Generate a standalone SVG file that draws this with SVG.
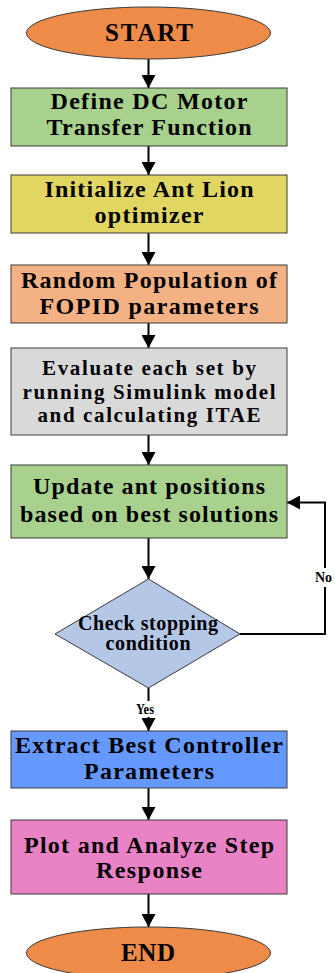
<svg xmlns="http://www.w3.org/2000/svg" width="335" height="973" viewBox="0 0 335 973">
<style>
.t{font-family:"Liberation Serif","Times New Roman",serif;font-weight:bold;fill:#000;text-anchor:middle}
.b{font-size:24px}
.e{font-size:21px}
.d{font-size:20px}
.l{font-size:14px}
.box{stroke:#3a3a3a;stroke-width:1}
.c{stroke:#000;stroke-width:2;fill:none}
</style>
<defs>
<marker id="ah" markerUnits="userSpaceOnUse" markerWidth="14" markerHeight="14" refX="13" refY="7" orient="auto">
<path d="M0,0 L13,7 L0,14 z" fill="#000"/>
</marker>
</defs>
<rect width="335" height="973" fill="#fff"/>
<g id="connectors">
<line class="c" x1="148.5" y1="59" x2="148.5" y2="88" marker-end="url(#ah)"/>
<line class="c" x1="148.5" y1="146" x2="148.5" y2="175" marker-end="url(#ah)"/>
<line class="c" x1="148.5" y1="233" x2="148.5" y2="265" marker-end="url(#ah)"/>
<line class="c" x1="148.5" y1="323" x2="148.5" y2="348" marker-end="url(#ah)"/>
<line class="c" x1="148.5" y1="435" x2="148.5" y2="465" marker-end="url(#ah)"/>
<line class="c" x1="148.5" y1="538" x2="148.5" y2="579" marker-end="url(#ah)"/>
<line class="c" x1="148.5" y1="688" x2="148.5" y2="731" marker-end="url(#ah)"/>
<line class="c" x1="148.5" y1="788" x2="148.5" y2="820" marker-end="url(#ah)"/>
<line class="c" x1="148.5" y1="894" x2="148.5" y2="927" marker-end="url(#ah)"/>
<polyline class="c" points="240,634 325,634 325,502.5 287,502.5" marker-end="url(#ah)"/>
<rect x="312" y="568" width="23" height="19" fill="#fff"/>
<text class="t l" x="315" y="582" style="text-anchor:start">No</text>
<rect x="134" y="701" width="26" height="16" fill="#fff"/>
<text class="t l" x="145" y="714" textLength="18" lengthAdjust="spacingAndGlyphs">Yes</text>
</g>
<g id="start">
<ellipse cx="148.5" cy="33" rx="122" ry="26" fill="#EF8B48" stroke="#3a3a3a" stroke-width="1"/>
<text class="t" x="149" y="41" font-size="25" textLength="88" lengthAdjust="spacing">START</text>
</g>
<g id="define">
<rect class="box" x="11" y="88" width="276" height="58" fill="#A9D18E"/>
<text class="t b" x="149" y="109" textLength="197" lengthAdjust="spacing">Define DC Motor</text>
<text class="t b" x="149" y="135" textLength="205" lengthAdjust="spacing">Transfer Function</text>
</g>
<g id="init">
<rect class="box" x="11" y="175" width="276" height="58" fill="#E2D662"/>
<text class="t b" x="149" y="197" textLength="209" lengthAdjust="spacing">Initialize Ant Lion</text>
<text class="t b" x="149" y="223" textLength="109" lengthAdjust="spacing">optimizer</text>
</g>
<g id="random">
<rect class="box" x="11" y="265" width="276" height="58" fill="#F4B183"/>
<text class="t b" x="149" y="288" textLength="256" lengthAdjust="spacing">Random Population of</text>
<text class="t b" x="149" y="314" textLength="219" lengthAdjust="spacing">FOPID parameters</text>
</g>
<g id="evaluate">
<rect class="box" x="11" y="348" width="276" height="87" fill="#D9D9D9"/>
<text class="t e" x="149" y="375" textLength="214" lengthAdjust="spacing">Evaluate each set by</text>
<text class="t e" x="149" y="399" textLength="253" lengthAdjust="spacing">running Simulink model</text>
<text class="t e" x="149" y="422" textLength="223" lengthAdjust="spacing">and calculating ITAE</text>
</g>
<g id="update">
<rect class="box" x="11" y="465" width="276" height="73" fill="#A9D18E"/>
<text class="t b" x="149" y="494" textLength="232" lengthAdjust="spacing">Update ant positions</text>
<text class="t b" x="149" y="522" textLength="258" lengthAdjust="spacing">based on best solutions</text>
</g>
<g id="check">
<polygon points="148.5,579 240,634 148.5,688 55,634" fill="#B4C7E7" stroke="#3a3a3a" stroke-width="1"/>
<text class="t d" x="148" y="630" textLength="140" lengthAdjust="spacing">Check stopping</text>
<text class="t d" x="148" y="650" textLength="85" lengthAdjust="spacing">condition</text>
</g>
<g id="extract">
<rect class="box" x="11" y="731" width="276" height="57" fill="#6699FF"/>
<text class="t b" x="149" y="753" textLength="268" lengthAdjust="spacing">Extract Best Controller</text>
<text class="t b" x="149" y="779" textLength="130" lengthAdjust="spacing">Parameters</text>
</g>
<g id="plot">
<rect class="box" x="11" y="820" width="276" height="74" fill="#EA82C6"/>
<text class="t b" x="149" y="853" textLength="250" lengthAdjust="spacing">Plot and Analyze Step</text>
<text class="t b" x="149" y="878" textLength="106" lengthAdjust="spacing">Response</text>
</g>
<g id="end">
<ellipse cx="148.5" cy="953" rx="122" ry="26" fill="#EF8B48" stroke="#3a3a3a" stroke-width="1"/>
<text class="t" x="148" y="961" font-size="25" textLength="54" lengthAdjust="spacing">END</text>
</g>
</svg>
